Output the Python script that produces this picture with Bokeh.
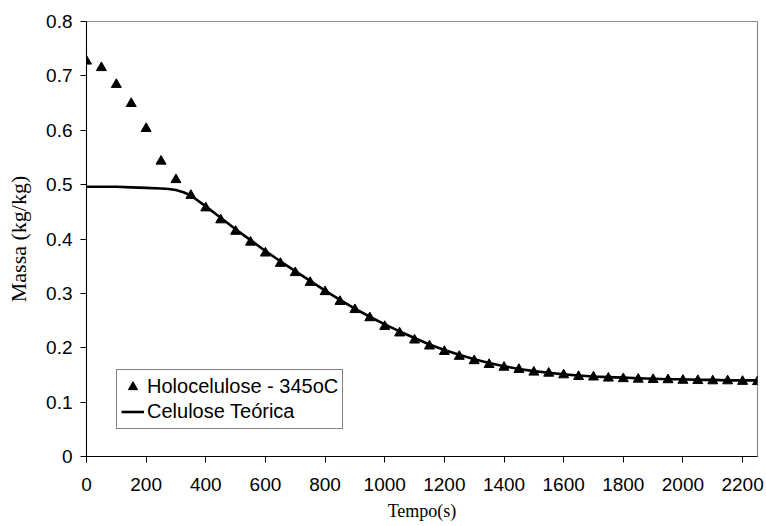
from bokeh.plotting import figure
from bokeh.models import Range1d, FixedTicker, Legend, LegendItem
from bokeh.embed import file_html
from bokeh.resources import INLINE

# Experimental data: Holocelulose - 345oC
exp_t = [0, 50, 100, 150, 200, 250, 300, 350, 400, 450, 500, 550, 600, 650, 700,
         750, 800, 850, 900, 950, 1000, 1050, 1100, 1150, 1200, 1250, 1300, 1350,
         1400, 1450, 1500, 1550, 1600, 1650, 1700, 1750, 1800, 1850, 1900, 1950,
         2000, 2050, 2100, 2150, 2200, 2250]
exp_m = [0.727, 0.715, 0.684, 0.649, 0.603, 0.543, 0.509, 0.480, 0.457, 0.435,
         0.414, 0.394, 0.374, 0.355, 0.338, 0.320, 0.303, 0.285, 0.270, 0.255,
         0.239, 0.227, 0.214, 0.203, 0.193, 0.184, 0.176, 0.169, 0.164, 0.160,
         0.155, 0.153, 0.150, 0.147, 0.146, 0.144, 0.143, 0.142, 0.1415, 0.141,
         0.140, 0.1395, 0.139, 0.139, 0.138, 0.1375]

# Theoretical curve: Celulose Teórica
teo_t = [0, 50, 100, 150, 200, 250, 275, 300, 325, 350, 400, 450, 500, 550, 600,
         650, 700, 750, 800, 850, 900, 950, 1000, 1050, 1100, 1150, 1200, 1250,
         1300, 1350, 1400, 1450, 1500, 1550, 1600, 1650, 1700, 1750, 1800, 1850,
         1900, 1950, 2000, 2050, 2100, 2150, 2200, 2250]
teo_m = [0.496, 0.496, 0.496, 0.495, 0.494, 0.493, 0.492, 0.490, 0.486, 0.480,
         0.460, 0.439, 0.418, 0.398, 0.378, 0.359, 0.341, 0.323, 0.305, 0.288,
         0.272, 0.257, 0.243, 0.230, 0.218, 0.206, 0.196, 0.187, 0.179, 0.172,
         0.166, 0.161, 0.157, 0.154, 0.151, 0.149, 0.147, 0.146, 0.145, 0.144,
         0.143, 0.142, 0.142, 0.141, 0.141, 0.140, 0.140, 0.140]

x_ticks = [0, 200, 400, 600, 800, 1000, 1200, 1400, 1600, 1800, 2000, 2200]
y_ticks = [0.0, 0.1, 0.2, 0.3, 0.4, 0.5, 0.6, 0.7, 0.8]
y_tick_labels = ["0", "0.1", "0.2", "0.3", "0.4", "0.5", "0.6", "0.7", "0.8"]

p = figure(width=766, height=526, output_backend="svg", toolbar_location=None,
           x_range=Range1d(0, 2250), y_range=Range1d(0, 0.8),
           min_border_left=86, min_border_right=9, min_border_top=21,
           min_border_bottom=70)
p.background_fill_color = "white"
p.border_fill_color = "white"
p.outline_line_color = "#8c8c8c"
p.outline_line_width = 1.2
p.xgrid.visible = False
p.ygrid.visible = False

p.xaxis.ticker = FixedTicker(ticks=x_ticks)
p.yaxis.ticker = FixedTicker(ticks=y_ticks)
p.yaxis.major_label_overrides = {t: l for t, l in zip(y_ticks, y_tick_labels)}

for ax in (p.xaxis, p.yaxis):
    ax.axis_line_color = "black"
    ax.axis_line_width = 1
    ax.major_tick_line_color = "black"
    ax.major_tick_out = 6
    ax.major_tick_in = 0
    ax.minor_tick_line_color = None
    ax.major_label_text_font = "Liberation Sans"
    ax.major_label_text_font_size = "19px"
    ax.major_label_text_color = "black"
    ax.axis_label_text_font = "Liberation Serif"
    ax.axis_label_text_font_style = "normal"
    ax.axis_label_text_color = "black"

p.xaxis.axis_label = "Tempo(s)"
p.yaxis.axis_label = "Massa (kg/kg)"
p.xaxis.axis_label_text_font_size = "18px"
p.yaxis.axis_label_text_font_size = "22px"
p.xaxis.major_label_standoff = 15
p.yaxis.major_label_standoff = 8
p.xaxis.axis_label_standoff = 7
p.yaxis.axis_label_standoff = 12

r_line = p.line(teo_t, teo_m, line_color="black", line_width=2.6)
r_pts = p.scatter(exp_t, exp_m, marker="triangle", size=10,
                  fill_color="black", line_color="black")

legend = Legend(items=[LegendItem(label="Holocelulose - 345oC", renderers=[r_pts]),
                       LegendItem(label="Celulose Teórica", renderers=[r_line])],
                location=(30, 27))
legend.label_text_font = "Liberation Sans"
legend.label_text_font_size = "20px"
legend.label_text_color = "black"
legend.border_line_color = "black"
legend.border_line_width = 1
legend.background_fill_alpha = 1
legend.padding = 4
legend.spacing = 0
legend.margin = 0
legend.glyph_width = 23
legend.glyph_height = 25
legend.label_height = 25
legend.label_standoff = 3
p.add_layout(legend, "center")

open("out.html", "w").write(file_html(p, INLINE))
